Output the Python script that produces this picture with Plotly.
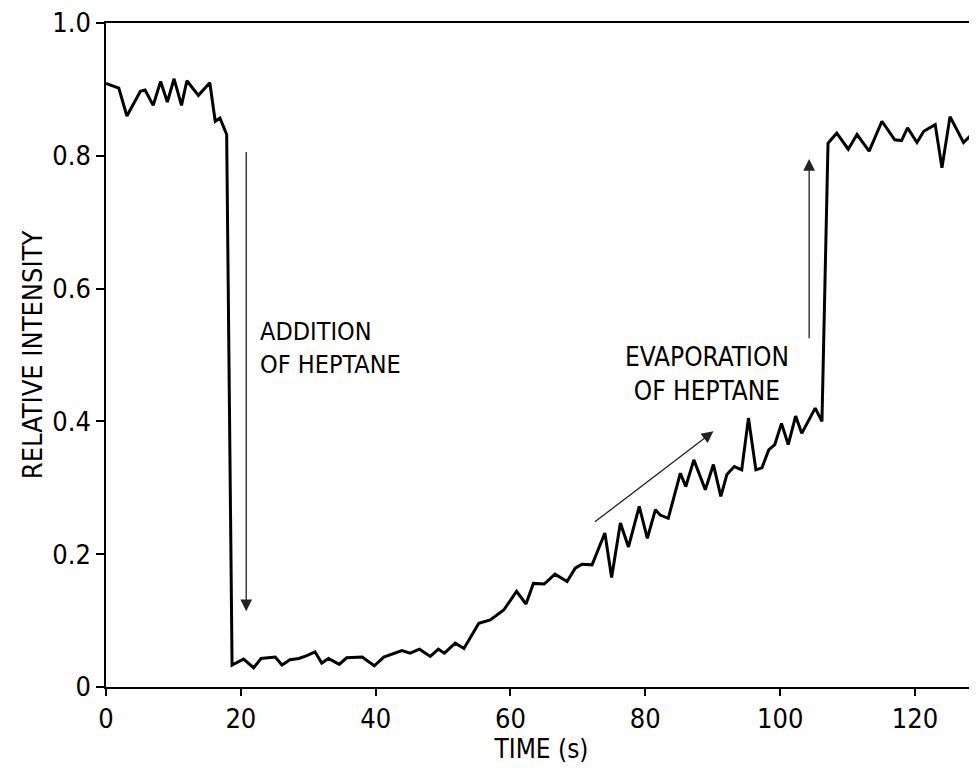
import plotly.graph_objects as go

time_s = [0.0, 1.9, 3.1, 5.1, 5.8, 7.0, 8.1, 9.1, 10.1, 11.2, 12.0, 13.7, 15.4, 16.2, 16.9, 17.9,
          18.7, 20.4, 21.9, 23.0, 25.1, 26.1, 27.3, 28.6, 29.7, 31.0, 32.0, 33.0, 34.6, 35.7, 38.0,
          39.8, 41.2, 42.7, 43.9, 45.1, 46.5, 48.1, 49.3, 50.2, 51.8, 53.1, 55.3, 57.0, 59.0, 60.9,
          62.3, 63.4, 65.0, 66.6, 68.4, 69.6, 70.6, 72.1, 74.0, 75.0, 76.3, 77.5, 79.1, 80.3, 81.5,
          82.2, 83.4, 85.2, 86.0, 87.2, 88.9, 90.1, 91.2, 92.1, 93.2, 94.3, 95.3, 96.4, 97.3, 98.3,
          99.2, 100.2, 101.2, 102.3, 103.2, 105.2, 106.2, 107.1, 108.4, 110.1, 111.4, 113.2, 115.1,
          117.0, 118.0, 118.9, 120.3, 121.3, 123.0, 124.0, 125.2, 127.2, 129.2]
intensity = [0.909, 0.902, 0.860, 0.897, 0.899, 0.876, 0.912, 0.881, 0.916, 0.876, 0.913, 0.891,
             0.910, 0.852, 0.857, 0.832,
             0.033, 0.042, 0.029, 0.043, 0.045, 0.033, 0.041, 0.043, 0.047, 0.053, 0.036, 0.043,
             0.034, 0.044, 0.045, 0.032, 0.045, 0.051, 0.055, 0.051, 0.057, 0.046, 0.057, 0.051,
             0.066, 0.058, 0.096, 0.101, 0.116, 0.144, 0.125, 0.156, 0.155, 0.170, 0.159, 0.179,
             0.185, 0.184, 0.232, 0.165, 0.247, 0.211, 0.272, 0.224, 0.267, 0.259, 0.254, 0.322,
             0.302, 0.342, 0.297, 0.335, 0.287, 0.320, 0.332, 0.327, 0.405, 0.327, 0.330, 0.357,
             0.365, 0.397, 0.365, 0.408, 0.382, 0.420, 0.400, 0.819, 0.834, 0.810, 0.832, 0.807,
             0.852, 0.824, 0.823, 0.842, 0.820, 0.837, 0.847, 0.782, 0.859, 0.820, 0.840]

x_ticks = [0, 20, 40, 60, 80, 100, 120]
x_ticklabels = ["0", "20", "40", "60", "80", "100", "120"]
y_ticks = [0, 0.2, 0.4, 0.6, 0.8, 1.0]
y_ticklabels = ["0", "0.2", "0.4", "0.6", "0.8", "1.0"]

FONT = "DejaVu Sans Condensed, Liberation Sans Narrow, Roboto Condensed, Liberation Sans, sans-serif"

fig = go.Figure()
fig.add_trace(go.Scatter(x=time_s, y=intensity, mode="lines",
                         line=dict(color="black", width=3), showlegend=False))

# text labels
fig.add_annotation(x=22.6, y=0.511, text="ADDITION<br>OF HEPTANE", showarrow=False,
                   xanchor="left", yanchor="middle", align="left",
                   font=dict(family=FONT, size=25, color="black"))
fig.add_annotation(x=89.2, y=0.471, text="EVAPORATION<br>OF HEPTANE", showarrow=False,
                   xanchor="center", yanchor="middle", align="center",
                   font=dict(family=FONT, size=26, color="black"))

# arrows (tip at x,y ; tail at ax,ay)
arrows = [
    (20.8, 0.114, 20.8, 0.808),
    (104.3, 0.795, 104.3, 0.523),
    (90.1, 0.385, 72.3, 0.247),
]
for x, y, ax, ay in arrows:
    fig.add_annotation(x=x, y=y, ax=ax, ay=ay, xref="x", yref="y", axref="x", ayref="y",
                       text="", showarrow=True, arrowhead=2, arrowsize=1.8, arrowwidth=1.3,
                       arrowcolor="#222")

fig.update_layout(
    width=969, height=764,
    margin=dict(l=98, r=0, t=15, b=85),
    paper_bgcolor="white", plot_bgcolor="white",
    font=dict(family=FONT, size=27, color="black"),
)
fig.update_xaxes(range=[0, 129.2], tickvals=x_ticks, ticktext=x_ticklabels,
                 showline=True, linecolor="black", linewidth=1.5, mirror=True,
                 ticks="outside", ticklen=7, tickwidth=1.5, tickcolor="black",
                 showgrid=False, zeroline=False, automargin=False,
                 ticklabeloverflow="allow",
                 title=dict(text="TIME (s)", font=dict(size=26), standoff=4),
                 tickfont=dict(size=27))
fig.update_yaxes(range=[0, 1.0], tickvals=y_ticks, ticktext=y_ticklabels,
                 showline=True, linecolor="black", linewidth=1.5,
                 ticks="outside", ticklen=8, tickwidth=1.5, tickcolor="black",
                 showgrid=False, zeroline=False, automargin=False,
                 ticklabeloverflow="allow",
                 title=dict(text="RELATIVE INTENSITY", font=dict(size=27), standoff=2),
                 tickfont=dict(size=27))

fig.write_html("out.html")
